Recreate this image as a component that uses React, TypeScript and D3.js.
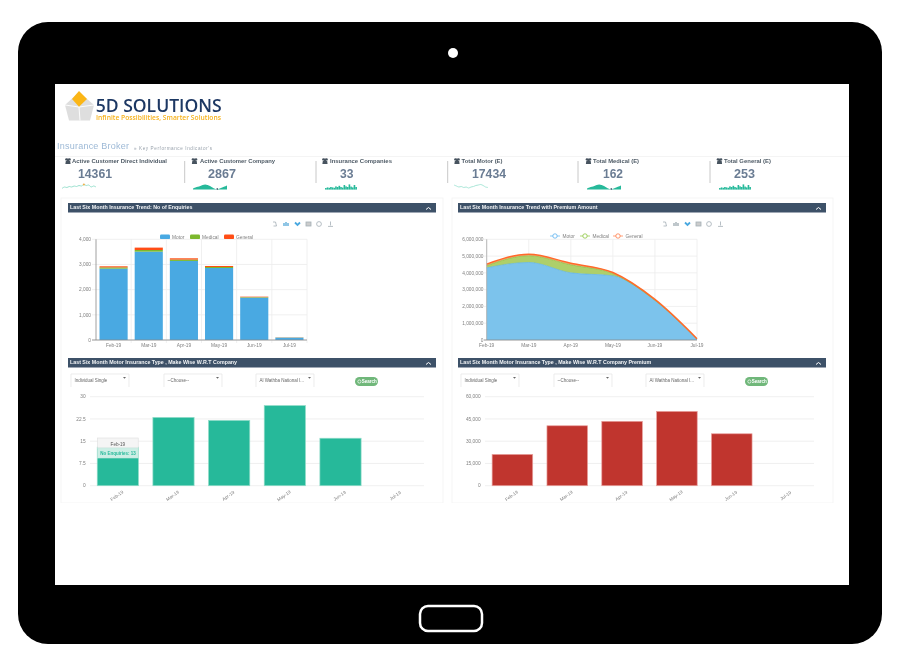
import React from "react";
import * as d3 from "d3";

const months = ["Feb-19", "Mar-19", "Apr-19", "May-19", "Jun-19", "Jul-19"];
const enquiryMotor = [2835, 3510, 3140, 2860, 1682, 95];
const enquiryMedical = [50, 65, 55, 40, 20, 5];
const enquiryGeneral = [42, 95, 50, 40, 20, 6];
const premiumMotor = [4300000, 4620000, 4000000, 3820000, 2340000, 40000];
const premiumMedical = [130000, 400000, 480000, 130000, 30000, 10000];
const premiumGeneral = [90000, 90000, 90000, 70000, 50000, 30000];
const companyEnquiries = [13, 23, 22, 27, 16, 0];
const companyPremium = [21100, 40400, 43400, 50100, 35000, 0];
const enquiryTicks = [0, 1000, 2000, 3000, 4000];
const premiumTicks = [0, 1000000, 2000000, 3000000, 4000000, 5000000, 6000000];
const companyEnquiryTicks = [0, 7.5, 15, 22.5, 30];
const companyPremiumTicks = [0, 15000, 30000, 45000, 60000];
const kpiLabels = ["Active Customer Direct Individual", "Active Customer Company", "Insurance Companies", "Total Motor (E)", "Total Medical (E)", "Total General (E)"];
const kpiValues = ["14361", "2867", "33", "17434", "162", "253"];
const sparkLine1 = [1.5, 3, 2.5, 3.5, 3, 4, 3.5, 4.5, 4, 5.5, 4.5, 5, 3, 4, 3];
const sparkArea = [1.5, 2.5, 3.2, 4, 5, 5.6, 5, 4, 2.6, 1.2, 0.6, 1.5, 2.5, 3.5, 4.6];
const sparkBars = [2, 2.6, 2.2, 3, 2.6, 2.2, 3.6, 3, 4.2, 3, 2.4, 5, 3.6, 3, 5.6, 3.4, 2.6, 5, 3];
const sparkLine2 = [5, 4, 3, 3.5, 2.5, 3, 2, 3, 3.5, 4.5, 5, 5.5, 4.5, 3, 2.5];
const selects = ["Individual Single", "--Choose--", "Al Wathba National I..."];
const legendNames = ["Motor", "Medical", "General"];

const FONT = "'Liberation Sans', Arial, sans-serif";
const AXIS = "#808080";
const NAVY = "#3d5168";

function Header({ x, y, w, title }: { x: number; y: number; w: number; title: string }) {
  return (
    <g>
      <rect x={x} y={y} width={w} height={9.5} fill={NAVY} />
      <text x={x + 2} y={y + 6} fontSize={5.3} fontWeight="bold" fill="#f2f4f6" fontFamily={FONT}>{title}</text>
      <path d={`M${w + x - 10} ${y + 6.5}l2.5 -2l2.5 2`} fill="none" stroke="#fff" strokeWidth={1} />
    </g>
  );
}

function Toolbar({ x, y, active }: { x: number; y: number; active: boolean }) {
  return (
    <g fill="none" stroke="#a4afb6" strokeWidth={0.8}>
      <path d={`M${x} ${y - 2}h2.5l1 4h-3`} />
      <path d={`M${x + 11} ${y + 2}v-3M${x + 13} ${y + 2}v-4M${x + 15} ${y + 2}v-3`} stroke={active ? "#62aedb" : "#a4afb6"} strokeWidth={1.4} />
      <path d={`M${x + 22} ${y - 1.5}l2.5 2.5l2.5 -2.5`} stroke="#4aa8e0" strokeWidth={1.8} />
      <rect x={x + 33} y={y - 2} width={5} height={4} fill="#ccc" />
      <circle cx={x + 46} cy={y} r={2.4} />
      <path d={`M${x + 55} ${y + 2.4}h5M${x + 57.5} ${y - 2.5}v4`} />
    </g>
  );
}

function YTicks({ ticks, y, x0, x1, right, fmt }: { ticks: number[]; y: d3.ScaleLinear<number, number>; x0: number; x1: number; right: number; fmt: (v: number) => string }) {
  return (
    <g>
      {ticks.map((t) => (
        <g key={t}>
          <line x1={x0} x2={x1} y1={y(t)} y2={y(t)} stroke="#ececec" strokeWidth={0.8} />
          <text x={right} y={y(t) + 1.7} fontSize={4.8} textAnchor="end" fill={AXIS} fontFamily={FONT}>{fmt(t)}</text>
        </g>
      ))}
    </g>
  );
}

function StackedBars() {
  const x = d3.scaleBand<string>().domain(months).range([96, 307]).paddingInner(0.2).paddingOuter(0.1);
  const step = x.step();
  const y = d3.scaleLinear().domain([0, 4000]).range([340, 239.3]);
  const series = d3.stack<number>().keys(["0", "1", "2"]).value((i, k) => [enquiryMotor, enquiryMedical, enquiryGeneral][+k][i])(months.map((_, i) => i));
  const colors = ["#49a9e2", "#7cb82f", "#ff4e12"];
  const fmt = d3.format(",");
  return (
    <g>
      <Toolbar x={273} y={224} active />
      <YTicks ticks={enquiryTicks} y={y} x0={92} x1={307} right={91} fmt={fmt} />
      {months.map((m, i) => (
        <line key={m} x1={96 + (i + 1) * step} x2={96 + (i + 1) * step} y1={239.3} y2={343} stroke="#ececec" strokeWidth={0.8} />
      ))}
      {series.map((s, k) =>
        s.map((d, i) => (
          <rect key={`${k}-${i}`} x={x(months[i])} y={y(d[1])} width={x.bandwidth()} height={Math.max(0, y(d[0]) - y(d[1]))} fill={colors[k]} />
        ))
      )}
      <line x1={96} x2={96} y1={239.3} y2={340} stroke="#888" strokeWidth={0.8} />
      <line x1={92} x2={307} y1={340} y2={340} stroke="#888" strokeWidth={0.8} />
      {months.map((m) => (
        <text key={m} x={(x(m) as number) + x.bandwidth() / 2} y={346.5} fontSize={4.8} textAnchor="middle" fill={AXIS} fontFamily={FONT}>{m}</text>
      ))}
      {legendNames.map((n, i) => {
        const lx = [160, 190, 224][i];
        return (
          <g key={n}>
            <rect x={lx} y={234.5} width={10} height={4.6} rx={1.2} fill={colors[i]} />
            <text x={lx + 12} y={238.5} fontSize={4.8} fill={AXIS} fontFamily={FONT}>{n}</text>
          </g>
        );
      })}
    </g>
  );
}

function StackedArea() {
  const x = d3.scalePoint<string>().domain(months).range([486.7, 697]);
  const y = d3.scaleLinear().domain([0, 6000000]).range([340, 239.3]);
  const sets = [premiumMotor, premiumMedical, premiumGeneral];
  const series = d3.stack<number>().keys(["0", "1", "2"]).value((i, k) => sets[+k][i])(months.map((_, i) => i));
  const fills = ["#7cc3ec", "#aecf6b", "#ffa77f"];
  const strokes = ["#5ab1ef", "#8cbf3f", "#ff6a2a"];
  const legendColors = ["#5ab1ef", "#8cc63f", "#ff7a45"];
  const area = d3.area<[number, number] & { data: number }>()
    .x((d) => x(months[d.data]) as number)
    .y0((d) => y(d[0]))
    .y1((d) => y(d[1]))
    .curve(d3.curveMonotoneX);
  const line = d3.line<[number, number] & { data: number }>()
    .x((d) => x(months[d.data]) as number)
    .y((d) => y(d[1]))
    .curve(d3.curveMonotoneX);
  const fmt = d3.format(",");
  return (
    <g>
      <Toolbar x={663} y={224} active={false} />
      <YTicks ticks={premiumTicks} y={y} x0={484} x1={697} right={483.5} fmt={fmt} />
      {months.map((m) => (
        <line key={m} x1={x(m)} x2={x(m)} y1={239.3} y2={340} stroke="#ececec" strokeWidth={0.8} />
      ))}
      {series.map((s, k) => (
        <path key={k} d={area(s as never) as string} fill={fills[k]} />
      ))}
      {series.map((s, k) => (
        <path key={k} d={line(s as never) as string} fill="none" stroke={strokes[k]} strokeWidth={k === 2 ? 1.5 : 0.7} />
      ))}
      <line x1={486.7} x2={486.7} y1={239.3} y2={340} stroke="#aaa" strokeWidth={0.8} />
      <line x1={484} x2={697} y1={340} y2={340} stroke="#888" strokeWidth={0.8} />
      {months.map((m) => (
        <text key={m} x={x(m)} y={346.5} fontSize={4.8} textAnchor="middle" fill={AXIS} fontFamily={FONT}>{m}</text>
      ))}
      {legendNames.map((n, i) => {
        const lx = [555, 585, 618][i];
        return (
          <g key={n}>
            <line x1={lx - 5} x2={lx + 5} y1={236} y2={236} stroke={legendColors[i]} strokeWidth={0.7} />
            <circle cx={lx} cy={236} r={2.2} fill="#fff" stroke={legendColors[i]} strokeWidth={0.8} />
            <text x={lx + 7.5} y={237.8} fontSize={4.8} fill={AXIS} fontFamily={FONT}>{n}</text>
          </g>
        );
      })}
    </g>
  );
}

function Filters({ xs, btn }: { xs: number[]; btn: number }) {
  return (
    <g>
      {selects.map((s, i) => (
        <g key={s}>
          <path d={`M${xs[i]} 387V374H${xs[i] + 58}V387`} fill="none" stroke="#e4e4e4" strokeWidth={0.7} />
          <text x={xs[i] + 3.5} y={382} fontSize={4.5} fill="#666" fontFamily={FONT}>{s}</text>
          <path d={`M${xs[i] + 52} 377h3l-1.5 1.8z`} fill="#666" />
        </g>
      ))}
      <rect x={btn} y={377} width={23} height={9} rx={4.5} fill="#6fb77a" />
      <circle cx={btn + 4.4} cy={381.5} r={1.6} fill="none" stroke="#fff" strokeWidth={0.7} />
      <text x={btn + 6.8} y={383.2} fontSize={4.5} fontWeight="bold" fill="#fff" fontFamily={FONT}>Search</text>
    </g>
  );
}

function CompanyBars({ values, ticks, max, x0, x1, gridFrom, labelRight, fill, stroke, fmt }: {
  values: number[]; ticks: number[]; max: number; x0: number; x1: number; gridFrom: number; labelRight: number; fill: string; stroke: string; fmt: (v: number) => string;
}) {
  const x = d3.scaleBand<string>().domain(months).range([x0, x1]).paddingInner(0.26).paddingOuter(0.13);
  const y = d3.scaleLinear().domain([0, max]).range([485.7, 396.7]);
  return (
    <g>
      <YTicks ticks={ticks} y={y} x0={gridFrom} x1={gridFrom === 90 ? 424 : 814} right={labelRight} fmt={fmt} />
      {values.map((v, i) =>
        v > 0 ? (
          <rect key={months[i]} x={x(months[i])} y={y(v)} width={x.bandwidth()} height={y(0) - y(v)} fill={fill} stroke={stroke} strokeWidth={0.7} />
        ) : null
      )}
      {months.map((m) => {
        const cx = (x(m) as number) + x.bandwidth() / 2;
        return (
          <text key={m} transform={`translate(${cx},497) rotate(-35)`} fontSize={4.6} textAnchor="middle" fill={AXIS} fontFamily={FONT}>{m}</text>
        );
      })}
    </g>
  );
}

function Sparks() {
  const y = d3.scaleLinear().domain([0, 7]).range([190, 183]);
  const lineOf = (data: number[], x0: number, color: string, dot: boolean) => {
    const x = d3.scaleLinear().domain([0, data.length - 1]).range([x0, x0 + 34]);
    return (
      <g>
        <path d={d3.line<number>().x((_, i) => x(i)).y((d) => y(d)).curve(d3.curveCatmullRom)(data) as string} fill="none" stroke={color} strokeWidth={0.9} />
        {dot ? <circle cx={x(9)} cy={y(data[9])} r={1} fill="#f2b04a" /> : null}
      </g>
    );
  };
  const areaOf = (x0: number) => {
    const x = d3.scaleLinear().domain([0, sparkArea.length - 1]).range([x0, x0 + 34]);
    return (
      <g>
        <path d={d3.area<number>().x((_, i) => x(i)).y0(189.6).y1((d) => y(d)).curve(d3.curveCatmullRom)(sparkArea) as string} fill="#26b99a" />
        <circle cx={x(10)} cy={189} r={0.9} fill="#4f6a7d" />
      </g>
    );
  };
  const barsOf = (x0: number) => {
    const x = d3.scaleBand<number>().domain(sparkBars.map((_, i) => i)).range([x0, x0 + 32]).padding(0.04);
    return sparkBars.map((d, i) => <rect key={i} x={x(i)} y={y(d)} width={x.bandwidth()} height={189.6 - y(d)} fill="#26b99a" />);
  };
  return (
    <g>
      {lineOf(sparkLine1, 62, "#8fdcc8", true)}
      {areaOf(193)}
      {barsOf(325)}
      {lineOf(sparkLine2, 454, "#9fe3d3", false)}
      {areaOf(587)}
      {barsOf(719)}
    </g>
  );
}

function KpiIcon({ x }: { x: number }) {
  return (
    <g fill="#46525e">
      <circle cx={x - 1.6} cy={159.4} r={1.2} />
      <circle cx={x + 1.6} cy={159.4} r={1.2} />
      <circle cx={x} cy={160} r={1.4} />
      <path d={`M${x - 2.6} 164l0.4 -3h4.4l0.4 3z`} />
    </g>
  );
}

function Kpis() {
  const labelX = [72, 200, 330, 461.5, 593, 724];
  const labelW = [95, 75, 62, 41, 46, 47];
  const iconX = [68, 194.5, 325, 457, 588.5, 719.5];
  const numX = [78, 208, 340, 472, 603, 734];
  const numW = [34, 28, 13.5, 34, 20, 21];
  return (
    <g>
      {[184.7, 316, 447.7, 578, 710].map((sx) => (
        <line key={sx} x1={sx} x2={sx} y1={161} y2={183} stroke="#c8c8c8" strokeWidth={1} />
      ))}
      {kpiLabels.map((l, i) => (
        <g key={l}>
          <KpiIcon x={iconX[i]} />
          <text x={labelX[i]} y={162.7} fontSize={5.4} fontWeight="bold" fill="#4f5b66" fontFamily={FONT} textLength={labelW[i]} lengthAdjust="spacingAndGlyphs">{l}</text>
          <text x={numX[i]} y={177.7} fontSize={12.3} fontWeight="bold" fill="#6a7c93" fontFamily={FONT} textLength={numW[i]} lengthAdjust="spacingAndGlyphs">{kpiValues[i]}</text>
        </g>
      ))}
      <Sparks />
    </g>
  );
}

function Logo() {
  return (
    <g>
      <path d="M79 92L94 105L90 120.5H69L65 105Z" fill="#dedede" />
      <path d="M79 107L65 105M79 107L94 105M79 107L80 120.5" stroke="#fff" strokeWidth={0.9} />
      <path d="M79 91L87 99L79 106.7L72 99Z" fill="#fbb616" />
      <text x={95.7} y={111.7} fontSize={17.5} fontFamily="'Open Sans', sans-serif" fontWeight={600} fill="#1f3864" textLength={126} lengthAdjust="spacingAndGlyphs">5D SOLUTIONS</text>
      <text x={96} y={119.6} fontSize={7} fontFamily="'Open Sans', sans-serif" fontWeight={600} fill="#f7b21c" textLength={125} lengthAdjust="spacingAndGlyphs">Infinite Possibilities, Smarter Solutions</text>
    </g>
  );
}

export default function App() {
  const comma = d3.format(",");
  const plain = (v: number) => String(v);
  return (
    <svg width={900} height={664} viewBox="0 0 900 664" style={{ position: "fixed", left: 0, top: 0, display: "block" }}>
      <defs>
        <filter id="soft" x="0" y="0" width="100%" height="100%">
          <feGaussianBlur stdDeviation={0.55} />
        </filter>
      </defs>
      <rect width={900} height={664} fill="#fff" />
      <rect x={18} y={22} width={864} height={622} rx={30} fill="#000" />
      <circle cx={453} cy={53} r={5} fill="#fff" />
      <rect x={420} y={606} width={62} height={25} rx={8} fill="none" stroke="#fff" strokeWidth={2.5} />
      <rect x={55} y={84} width={794} height={501} fill="#fff" />
      <g filter="url(#soft)">
        <Logo />
        <text x={57} y={149} fontSize={9} fill="#9db9d6" fontFamily={FONT} textLength={72} lengthAdjust="spacing">Insurance Broker</text>
        <text x={134} y={149.5} fontSize={4.6} fill="#9aa3ad" fontFamily={FONT} textLength={78}>» Key Performance Indicator's</text>
        <line x1={55} x2={849} y1={156.5} y2={156.5} stroke="#f1f1f1" strokeWidth={0.8} />
        <Kpis />
        <rect x={61} y={198} width={382} height={305} fill="none" stroke="#f3f3f3" strokeWidth={0.8} />
        <rect x={452} y={198} width={381} height={305} fill="none" stroke="#f3f3f3" strokeWidth={0.8} />
        <Header x={68} y={203} w={368} title="Last Six Month Insurance Trend: No of Enquiries" />
        <Header x={458} y={203} w={368} title="Last Six Month Insurance Trend with Premium Amount" />
        <StackedBars />
        <StackedArea />
        <Header x={68} y={358} w={368} title="Last Six Month Motor Insurance Type , Make Wise W.R.T Company" />
        <Header x={458} y={358} w={368} title="Last Six Month Motor Insurance Type , Make Wise W.R.T Company Premium" />
        <Filters xs={[71, 164, 256]} btn={355} />
        <Filters xs={[461, 554, 646]} btn={745} />
        <CompanyBars values={companyEnquiries} ticks={companyEnquiryTicks} max={30} x0={90} x1={424} gridFrom={90} labelRight={85.7} fill="#26b99a" stroke="#8fdcc8" fmt={plain} />
        <CompanyBars values={companyPremium} ticks={companyPremiumTicks} max={60000} x0={485} x1={814} gridFrom={485} labelRight={480.6} fill="#c0342f" stroke="#e8a09c" fmt={comma} />
        <rect x={97.7} y={438} width={40.5} height={10} fill="#f5f5f5" stroke="#ddd" strokeWidth={0.6} />
        <rect x={97.7} y={448} width={40.5} height={10} fill="#cdeee5" stroke="#c4e6dc" strokeWidth={0.6} />
        <text x={117.9} y={446} fontSize={4.6} textAnchor="middle" fill="#555" fontFamily={FONT}>Feb-19</text>
        <text x={117.9} y={454.5} fontSize={4.5} fontWeight="bold" textAnchor="middle" fill="#26b99a" fontFamily={FONT}>No Enquiries: 13</text>
      </g>
    </svg>
  );
}
